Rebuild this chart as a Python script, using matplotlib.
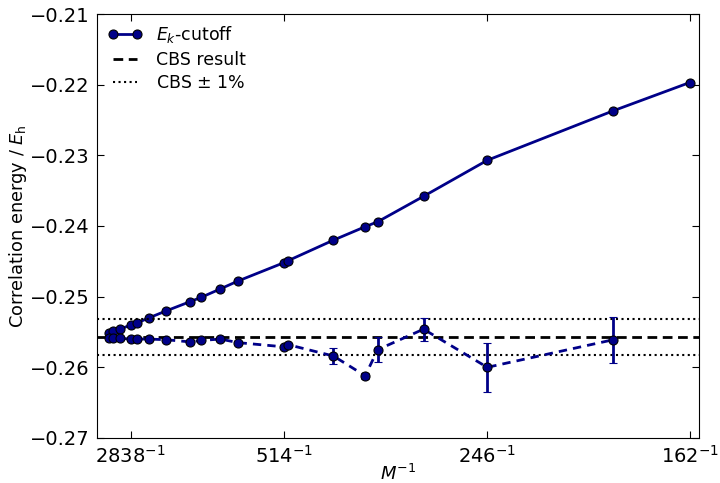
import numpy as np
import matplotlib
matplotlib.use("Agg")
import matplotlib.pyplot as plt

# Number of basis functions M (plotted as 1/M)
M_cutoff = [7884, 6166, 4147, 2838, 2370, 1850, 1382, 1030, 922, 778, 682,
            514, 502, 406, 358, 342, 294, 246, 186, 162]
E_cutoff = [-0.2552, -0.2549, -0.2546, -0.2540, -0.2537, -0.2530, -0.2520,
            -0.2507, -0.2501, -0.2489, -0.2478, -0.2452, -0.2449, -0.2420,
            -0.2401, -0.2394, -0.2358, -0.2307, -0.2237, -0.2197]

# extrapolated / corrected estimates with stochastic error bars
M_corr = [7884, 6166, 4147, 2838, 2370, 1850, 1382, 1030, 922, 778, 682,
          514, 502, 406, 358, 342, 294, 246, 186]
E_corr = [-0.2559, -0.2559, -0.2559, -0.2560, -0.2560, -0.2560, -0.2561,
          -0.2564, -0.2562, -0.2560, -0.2565, -0.2571, -0.2568, -0.2584,
          -0.2612, -0.2575, -0.2546, -0.2600, -0.2561]
E_corr_err = [0, 0, 0, 0, 0, 0, 0, 0, 0, 0, 0, 0, 0,
              0.00113, 0.0004, 0.00177, 0.00165, 0.00347, 0.00325]

E_cbs = -0.25575
tick_M = [2838, 514, 246, 162]

navy = '#000088'

fig = plt.figure(figsize=(7.2, 4.83), dpi=100)
ax = fig.add_axes([0.1347, 0.0932, 0.8361, 0.8778])

x_cut = 1.0 / np.array(M_cutoff)
x_corr = 1.0 / np.array(M_corr)

ax.plot(x_cut, E_cutoff, '-o', color=navy, lw=2, ms=6.5, mfc=navy, mec='black',
        mew=0.8, label=r'$E_k$-cutoff')
ax.axhline(E_cbs, color='black', ls='--', lw=2, dashes=(3.5, 2), label='CBS result')
ax.axhline(E_cbs * 0.99, color='black', ls=':', lw=1.5, label=r'CBS $\pm$ 1%')
ax.axhline(E_cbs * 1.01, color='black', ls=':', lw=1.5)
ax.errorbar(x_corr, E_corr, yerr=E_corr_err, fmt='o', ls='--', dashes=(3, 2.2),
            color=navy, lw=2, ms=6.5, mfc=navy, mec='black', mew=0.8,
            ecolor=navy, elinewidth=2, capsize=3, capthick=1)

ax.set_xlim(0, 0.00627)
ax.set_ylim(-0.27, -0.21)
ax.set_xticks(1.0 / np.array(tick_M))
ax.set_xticklabels([r'$%d^{-1}$' % m for m in tick_M])
ax.set_yticks(np.arange(-0.27, -0.2099, 0.01))
ax.tick_params(direction='in', top=True, right=True, length=5, labelsize=14, pad=5)

ax.set_xlabel(r'$M^{-1}$', fontsize=13, labelpad=-2)
ax.set_ylabel(r'Correlation energy / $E_\mathrm{h}$', fontsize=12.8, labelpad=1)

ax.legend(loc='upper left', frameon=False, fontsize=12.5, numpoints=2,
          handlelength=2, borderaxespad=0.2, labelspacing=0.3)

fig.savefig('out.png', dpi=100)
